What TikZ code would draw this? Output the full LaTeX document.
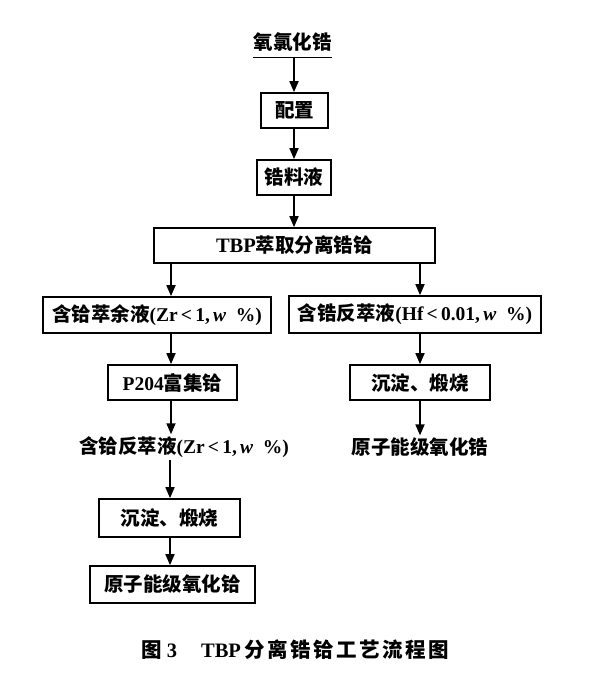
\documentclass[tikz,border=0pt]{standalone}
\usepackage{fontspec}
\setmainfont{Liberation Serif}
\newfontfamily\cjk{Noto Sans CJK SC}
\newfontfamily\cjkcap{Noto Sans CJK SC}[LetterSpace=12]
\usetikzlibrary{arrows.meta}
\begin{document}
\begin{tikzpicture}[x=1pt,y=-1pt,
  box/.style={draw, line width=1.7pt, inner sep=0pt, align=center},
  lbl/.style={inner sep=2pt, align=center},
  arr/.style={-{Triangle[length=11pt,width=9pt]}, line width=1.7pt},
  every node/.style={font=\fontsize{19.5}{22}\selectfont\bfseries}]
\useasboundingbox (0,0) rectangle (591,679);
\node[lbl, minimum width=79pt, minimum height=30pt, inner sep=0pt] (n0) at (292.5,42) {\cjk 氧氯化锆};
\draw[line width=1.2pt] (n0.south west) -- (n0.south east);
\node[box, minimum width=67pt, minimum height=35pt] (b1) at (294.5,110.5) {\cjk 配置};
\node[box, minimum width=74pt, minimum height=35pt] (b2) at (294,177.5) {\cjk 锆料液};
\node[box, minimum width=281pt, minimum height=35pt] (b3) at (294.5,245.5) {\fontsize{20.5}{22}\selectfont TBP{\fontsize{19.5}{22}\selectfont\cjk 萃取分离锆铪}};
\node[box, minimum width=228pt, minimum height=36pt] (b4) at (157,315) {{\cjk 含铪萃余液}(Zr\,<\,1,\,\textit{w}~~\%)};
\node[box, minimum width=252pt, minimum height=37pt] (b5) at (415,314.5) {{\cjk 含锆反萃液}(Hf\,<\,0.01,\,\textit{w}~~\%)};
\node[box, minimum width=129pt, minimum height=35pt] (b6) at (172.5,382.5) {P204{\cjk 富集铪}};
\node[box, minimum width=140pt, minimum height=35pt] (b7) at (420,382.5) {\cjk 沉淀、煅烧};
\node[lbl] (t8) at (184,447) {{\cjk 含铪反萃液}(Zr\,<\,1,\,\textit{w}~~\%)};
\node[lbl] (t9) at (420,447) {\cjk 原子能级氧化锆};
\node[box, minimum width=141pt, minimum height=38pt] (b10) at (169.5,518) {\cjk 沉淀、煅烧};
\node[box, minimum width=165pt, minimum height=37pt] (b11) at (172.5,584.5) {\cjk 原子能级氧化铪};
\node[lbl, font=\fontsize{20.5}{22}\selectfont\bfseries] (cap) at (295,650) {{\cjk 图}\hspace{5pt}3\hspace{24pt}TBP\,{\cjkcap 分离锆铪工艺流程图}};
\coordinate (cx) at (294,0);
\coordinate (lx) at (171,0);
\coordinate (rx) at (420,0);
\coordinate (mx) at (170,0);
\draw[arr] (n0.south -| cx) -- (b1.north -| cx);
\draw[arr] (b1.south -| cx) -- (b2.north -| cx);
\draw[arr] (b2.south -| cx) -- (b3.north -| cx);
\draw[arr] (b3.south -| lx) -- (b4.north -| lx);
\draw[arr] (b3.south -| rx) -- (b5.north -| rx);
\draw[arr] (b4.south -| lx) -- (b6.north -| lx);
\draw[arr] (b5.south -| rx) -- (b7.north -| rx);
\draw[arr] (b6.south -| lx) -- (t8.north -| lx);
\draw[arr] (b7.south -| rx) -- (t9.north -| rx);
\draw[arr] (t8.south -| mx) -- (b10.north -| mx);
\draw[arr] (b10.south -| mx) -- (b11.north -| mx);
\end{tikzpicture}
\end{document}
